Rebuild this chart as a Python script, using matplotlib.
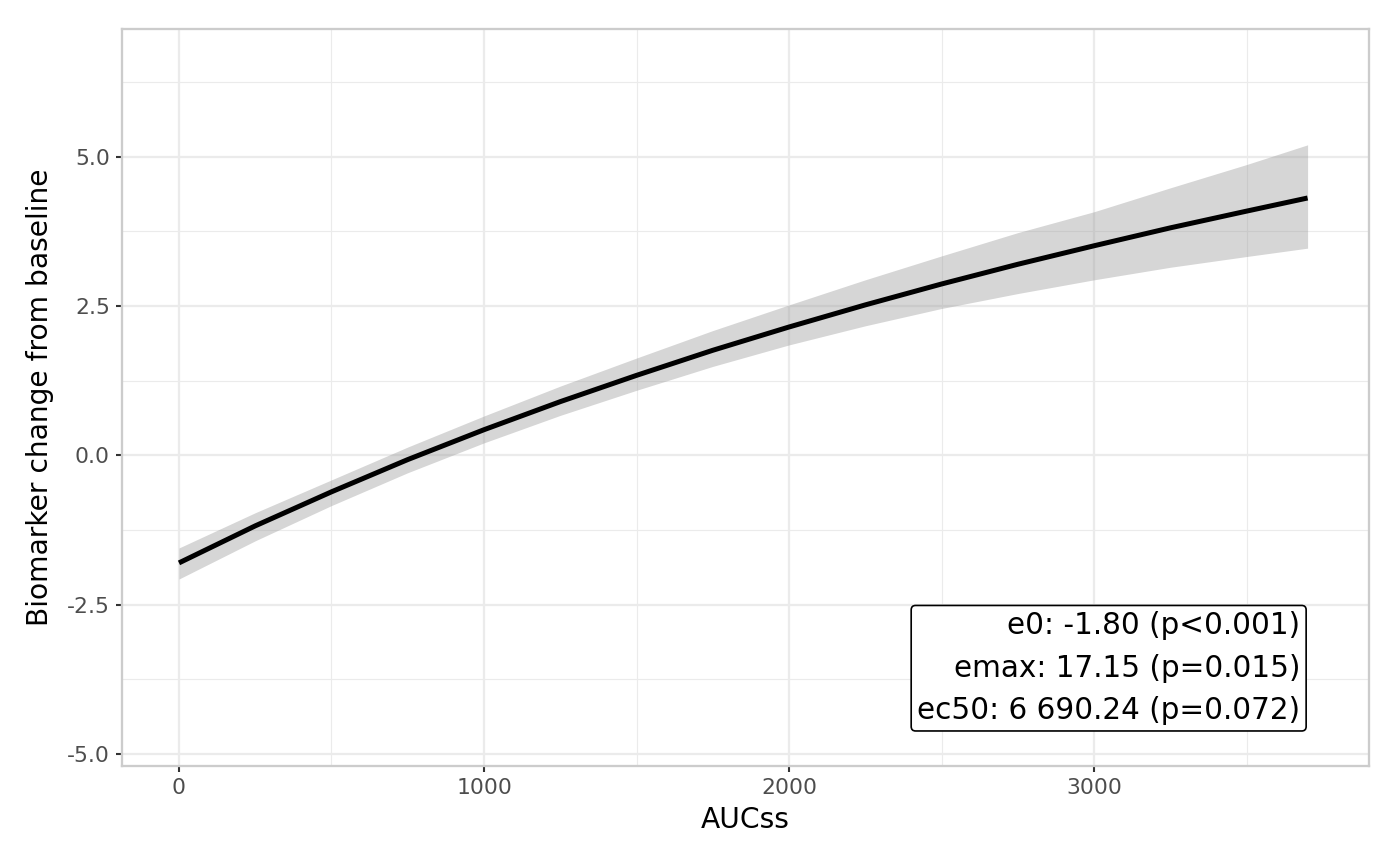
# Emax model fit: biomarker change vs AUCss
import matplotlib
matplotlib.use("Agg")
import matplotlib.pyplot as plt
from matplotlib.ticker import MultipleLocator

plt.rcParams["font.family"] = ["DejaVu Sans"]
plt.rcParams["axes.unicode_minus"] = False

# values
auc = [0, 250, 500, 750, 1000, 1250, 1500, 1750, 2000, 2250, 2500, 2750, 3000, 3250, 3500, 3700]
fit = [-1.80, -1.18, -0.61, -0.07, 0.43, 0.90, 1.34, 1.76, 2.15, 2.52, 2.87, 3.20, 3.51, 3.81, 4.09, 4.31]
band_lo = [-2.07, -1.43, -0.84, -0.29, 0.21, 0.67, 1.09, 1.49, 1.85, 2.17, 2.46, 2.71, 2.94, 3.15, 3.33, 3.47]
band_hi = [-1.55, -0.96, -0.41, 0.14, 0.66, 1.16, 1.63, 2.09, 2.52, 2.94, 3.34, 3.73, 4.08, 4.48, 4.87, 5.20]

x_ticks = [0, 1000, 2000, 3000]
x_labels = ["0", "1000", "2000", "3000"]
y_ticks = [-5.0, -2.5, 0.0, 2.5, 5.0]
y_labels = ["-5.0", "-2.5", "0.0", "2.5", "5.0"]

stats_text = "e0: -1.80 (p<0.001)\nemax: 17.15 (p=0.015)\nec50: 6 690.24 (p=0.072)"

fig = plt.figure(figsize=(1400 / 150, 865 / 150), dpi=150)
ax = fig.add_axes([0.0871, 0.1145, 0.8909, 0.852])

ax.fill_between(auc, band_lo, band_hi, color="#999999", alpha=0.4, linewidth=0, zorder=2)
ax.plot(auc, fit, color="black", linewidth=2.4, solid_capstyle="butt", zorder=3)

ax.set_xlim(-187, 3902)
ax.set_ylim(-5.2, 7.14)

ax.set_xticks(x_ticks)
ax.set_xticklabels(x_labels)
ax.set_yticks(y_ticks)
ax.set_yticklabels(y_labels)
ax.xaxis.set_minor_locator(MultipleLocator(500))
ax.yaxis.set_minor_locator(MultipleLocator(1.25))

ax.grid(which="major", color="#EBEBEB", linewidth=1.1, zorder=0)
ax.grid(which="minor", color="#EBEBEB", linewidth=0.55, zorder=0)
ax.set_axisbelow(True)

ax.tick_params(which="major", length=2.8, width=1.0, color="#333333",
               labelsize=10.5, labelcolor="#4D4D4D", pad=3)
ax.tick_params(which="minor", length=0)

for s in ax.spines.values():
    s.set_color("#CCCCCC")
    s.set_linewidth(1.1)

ax.set_xlabel("AUCss", fontsize=13.5, labelpad=4)
ax.set_ylabel("Biomarker change from baseline", fontsize=13.5, labelpad=6)

ax.text(0.9447, 0.0555, stats_text, transform=ax.transAxes, ha="right", va="bottom",
        fontsize=14.2, linespacing=1.58, multialignment="right", zorder=5,
        bbox=dict(boxstyle="round,pad=0.2,rounding_size=0.15", facecolor="white",
                  edgecolor="black", linewidth=0.8))

fig.savefig("out.png", dpi=150)
